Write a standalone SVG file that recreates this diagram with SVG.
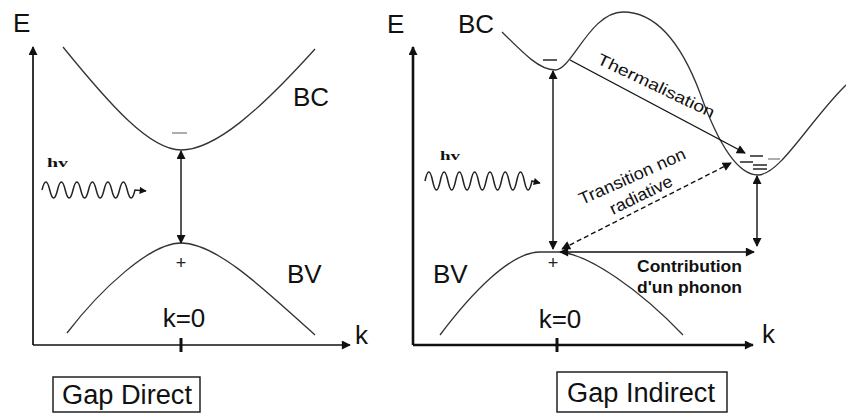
<svg xmlns="http://www.w3.org/2000/svg" width="846" height="414" viewBox="0 0 846 414">
<defs>
<marker id="ah" viewBox="0 0 10 10" refX="9" refY="5" markerWidth="10" markerHeight="9" markerUnits="userSpaceOnUse" orient="auto-start-reverse"><path d="M0,0 L10,5 L0,10 z" fill="#111"/></marker>
<marker id="ahs" viewBox="0 0 10 10" refX="9" refY="5" markerWidth="8" markerHeight="7" markerUnits="userSpaceOnUse" orient="auto"><path d="M0,0 L10,5 L0,10 z" fill="#111"/></marker>
</defs>
<style>
.lbl{font-family:"Liberation Sans",Arial,sans-serif;fill:#111}
.big{font-size:26px}
.small{font-size:16px}
.curve{fill:none;stroke:#333;stroke-width:1.3}
.ax{fill:none;stroke:#111;stroke-width:1.7}
.ax2{fill:none;stroke:#111;stroke-width:2.6}
.tick{stroke:#111;stroke-width:3}
.arr{fill:none;stroke:#111;stroke-width:1.4}
.dash{stroke-dasharray:5 3}
.wave{fill:none;stroke:#222;stroke-width:1.5}
.hv{font-family:"Liberation Serif","Times New Roman",serif;font-weight:bold;font-size:13px;fill:#111}
.box{fill:#fff;stroke:#222;stroke-width:1.5}
.gap{font-size:27px}
.lvl{stroke:#333;stroke-width:1.6}
.lvl2{stroke:#999;stroke-width:1.6}
.plus{font-family:"Liberation Sans",Arial,sans-serif;font-size:18px;fill:#222}
</style>

<!-- ===== Left panel: direct gap ===== -->
<g id="left-axes">
<path class="ax" d="M33,345 L33,47" marker-end="url(#ah)"/>
<path class="ax" d="M33,345 L350,345" marker-end="url(#ah)"/>
<line class="tick" x1="181" y1="338" x2="181" y2="352"/>
<text class="lbl big" x="13" y="32">E</text>
<text class="lbl big" x="355" y="344">k</text>
<text class="lbl big" x="184" y="327" text-anchor="middle">k=0</text>
</g>
<g id="left-bc">
<path class="curve" d="M63,47 C110,105 150,150 181,150 C215,150 260,110 315,49"/>
<text class="lbl big" x="293" y="106">BC</text>
<line class="lvl2" x1="172" y1="133" x2="187" y2="133"/>
</g>
<g id="left-bv">
<path class="curve" d="M67,333 C100,290 150,243 181,243 C215,243 260,285 315,335"/>
<text class="lbl big" x="287" y="283">BV</text>
<text class="plus" x="181" y="269" text-anchor="middle">+</text>
</g>
<g id="left-photon">
<text class="hv" x="47" y="167" textLength="21" lengthAdjust="spacingAndGlyphs">hv</text>
<path class="wave" d="M42,190 q3.875,-16 7.75,0 t7.75,0 t7.75,0 t7.75,0 t7.75,0 t7.75,0 t7.75,0 t7.75,0 t7.75,0 t7.75,0 t7.75,0 t7.75,0 L146,191" marker-end="url(#ahs)"/>
</g>
<g id="gap-direct">
<rect class="box" x="53" y="377" width="147" height="35"/>
<text class="lbl gap" x="62" y="404" textLength="130" lengthAdjust="spacingAndGlyphs">Gap Direct</text>
</g>

<!-- ===== Right panel: indirect gap ===== -->
<g id="right-axes">
<path class="ax2" d="M413,345 L413,47" marker-end="url(#ah)"/>
<path class="ax2" d="M413,345 L753,345" marker-end="url(#ah)"/>
<line class="tick" x1="557" y1="338" x2="557" y2="352"/>
<text class="lbl big" x="387" y="33">E</text>
<text class="lbl big" x="762" y="343">k</text>
<text class="lbl big" x="560" y="328" text-anchor="middle">k=0</text>
</g>
<g id="right-bc">
<path class="curve" d="M502,32 C525,55 540,70 555,70 C572,70 590,12 623,12 C655,12 680,40 700,93 C715,135 735,175 758,175 C780,175 810,120 846,85"/>
<text class="lbl big" x="458" y="33">BC</text>
<line class="lvl" x1="543" y1="60" x2="557" y2="60"/>
<line class="lvl" x1="750" y1="156" x2="763" y2="156"/>
<line class="lvl2" x1="768" y1="159" x2="780" y2="159"/>
<line class="lvl" x1="740" y1="162" x2="753" y2="162"/>
<line class="lvl" x1="753" y1="165" x2="767" y2="165"/>
<line class="lvl" x1="753" y1="169" x2="767" y2="169"/>
</g>
<g id="right-bv">
<path class="curve" d="M440,335 C470,295 510,252 540,252 L560,252 C590,255 640,290 683,335"/>
<text class="lbl big" x="433" y="283">BV</text>
<text class="plus" x="553" y="269" text-anchor="middle">+</text>
</g>
<g id="right-photon">
<text class="hv" x="440" y="160" textLength="20" lengthAdjust="spacingAndGlyphs">hv</text>
<path class="wave" d="M425,181 q3.82,-18 7.64,0 t7.64,0 t7.64,0 t7.64,0 t7.64,0 t7.64,0 t7.64,0 t7.64,0 t7.64,0 t7.64,0 t7.64,0 t7.64,0 t7.64,0 t7.64,0 L540,183" marker-end="url(#ahs)"/>
</g>
<g id="label-thermalisation">
<text class="lbl small" transform="translate(596,63) rotate(25.5)" textLength="128" lengthAdjust="spacingAndGlyphs">Thermalisation</text>
</g>
<g id="label-transition">
<text class="lbl" font-size="17" transform="translate(582,205) rotate(-24)" textLength="115" lengthAdjust="spacingAndGlyphs">Transition non</text>
<text class="lbl" font-size="17" transform="translate(613,215) rotate(-26)" textLength="68" lengthAdjust="spacingAndGlyphs">radiative</text>
</g>
<g id="label-phonon">
<text class="lbl" font-size="17" font-weight="bold" x="637" y="272" textLength="105" lengthAdjust="spacingAndGlyphs">Contribution</text>
<text class="lbl" font-size="17" font-weight="bold" x="637" y="293" textLength="105" lengthAdjust="spacingAndGlyphs">d'un phonon</text>
</g>
<g id="gap-indirect">
<rect class="box" x="557" y="372" width="170" height="40"/>
<text class="lbl gap" x="567" y="402" textLength="148" lengthAdjust="spacingAndGlyphs">Gap Indirect</text>
</g>

<!-- ===== Connectors ===== -->
<g id="connectors">
<path class="arr" d="M181,151 L181,243" marker-start="url(#ah)" marker-end="url(#ah)"/>
<path class="arr" d="M553,71 L553,249" marker-start="url(#ah)" marker-end="url(#ah)"/>
<path class="arr" d="M757,176 L757,246" marker-start="url(#ah)" marker-end="url(#ah)"/>
<path class="arr" d="M570,60 L745,153" marker-end="url(#ah)"/>
<path class="arr dash" d="M731,163 L562,249" marker-start="url(#ah)" marker-end="url(#ah)"/>
<path class="arr" d="M560,252 L754,252" marker-start="url(#ah)" marker-end="url(#ah)"/>
</g>
</svg>
